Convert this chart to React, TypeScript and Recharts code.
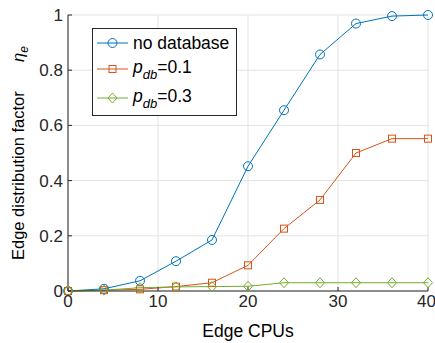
import { LineChart, Line, XAxis, YAxis, CartesianGrid } from 'recharts'

const FONT = "'Liberation Sans', Arial, sans-serif"
const BLUE = '#0072BD'
const ORANGE = '#D95319'
const GREEN = '#77AC30'
const AXIS = '#262626'

const cpus = [0, 4, 8, 12, 16, 20, 24, 28, 32, 36, 40]
const noDatabase = [0, 0.008, 0.037, 0.108, 0.185, 0.452, 0.655, 0.857, 0.969, 0.996, 1.0]
const pdb01 = [0, 0.003, 0.006, 0.016, 0.03, 0.093, 0.226, 0.33, 0.5, 0.552, 0.552]
const pdb03 = [0, 0.003, 0.012, 0.015, 0.016, 0.017, 0.03, 0.03, 0.03, 0.03, 0.03]

const xTicks = [0, 10, 20, 30, 40]
const yTicks = [0, 0.2, 0.4, 0.6, 0.8, 1]

const data = cpus.map((c, i) => ({ cpu: c, a: noDatabase[i], b: pdb01[i], c: pdb03[i] }))

type DotProps = { cx?: number; cy?: number; index?: number }

const Circle = ({ cx = 0, cy = 0, index }: DotProps) => (
  <circle key={index} cx={cx} cy={cy} r={4.5} fill="none" stroke={BLUE} strokeWidth={1} />
)
const Square = ({ cx = 0, cy = 0, index }: DotProps) => (
  <rect key={index} x={cx - 3.5} y={cy - 3.5} width={7} height={7} fill="none" stroke={ORANGE} strokeWidth={1} />
)
const Diamond = ({ cx = 0, cy = 0, index }: DotProps) => (
  <path key={index} d={`M${cx},${cy - 5}L${cx + 4.5},${cy}L${cx},${cy + 5}L${cx - 4.5},${cy}Z`}
    fill="none" stroke={GREEN} strokeWidth={1} />
)

// legend drawn as an overlay so it does not take space from the plot
const LegendBox = () => (
  <svg width={145} height={88} style={{ display: 'block' }}>
    <rect x={0.5} y={0.5} width={144} height={87} fill="#fff" stroke={AXIS} strokeWidth={1} />
    <line x1={5} x2={36} y1={15} y2={15} stroke={BLUE} />
    <Circle cx={20.5} cy={15} />
    <text x={41} y={21} fontSize={17.5} fontFamily={FONT} fill="#000">no database</text>
    <line x1={5} x2={36} y1={41} y2={41} stroke={ORANGE} />
    <Square cx={20.5} cy={41} />
    <text x={41} y={45} fontSize={17.5} fontFamily={FONT} fill="#000">
      <tspan fontStyle="italic">p</tspan>
      <tspan fontStyle="italic" fontSize={13} dy={6}>db</tspan>
      <tspan dy={-6}>=0.1</tspan>
    </text>
    <line x1={5} x2={36} y1={70} y2={70} stroke={GREEN} />
    <Diamond cx={20.5} cy={70} />
    <text x={41} y={74} fontSize={17.5} fontFamily={FONT} fill="#000">
      <tspan fontStyle="italic">p</tspan>
      <tspan fontStyle="italic" fontSize={13} dy={6}>db</tspan>
      <tspan dy={-6}>=0.3</tspan>
    </text>
  </svg>
)

const YLabel = () => (
  <text transform="translate(24,260) rotate(-90)" textAnchor="start" fontSize={16.5} fontFamily={FONT} fill="#000">
    <tspan x={0}>Edge distribution factor</tspan>
    <tspan x={198} fontStyle="italic">η</tspan>
    <tspan fontStyle="italic" fontSize={12} dy={4}>e</tspan>
  </text>
)

export default function App() {
  const tick = { fill: AXIS, fontSize: 17, fontFamily: FONT }
  return (
    <div style={{ position: 'absolute', left: 0, top: 0, width: 435, height: 343, background: '#fff' }}>
      <LineChart width={435} height={343} data={data} margin={{ top: 15, right: 7, bottom: 0, left: 0 }}>
        <CartesianGrid stroke="#e3e3e3" strokeWidth={1} />
        <XAxis dataKey="cpu" type="number" domain={[0, 40]} ticks={xTicks} tick={tick}
          stroke={AXIS} tickSize={-4} tickMargin={8} height={52}
          label={{ value: 'Edge CPUs', position: 'insideBottom', offset: 6, fill: '#000', fontSize: 17.5, fontFamily: FONT }} />
        <XAxis xAxisId="top" orientation="top" type="number" domain={[0, 40]} ticks={xTicks}
          tick={false} stroke={AXIS} tickSize={-4} height={0} />
        <YAxis type="number" domain={[0, 1]} ticks={yTicks} tick={tick} stroke={AXIS}
          tickSize={-4} tickMargin={9} width={68} tickFormatter={v => String(v)}
          label={<YLabel />} />
        <YAxis yAxisId="right" orientation="right" type="number" domain={[0, 1]} ticks={yTicks}
          tick={false} stroke={AXIS} tickSize={-4} width={0} />
        <Line dataKey="a" stroke={BLUE} strokeWidth={1} dot={<Circle />} isAnimationActive={false} />
        <Line dataKey="b" stroke={ORANGE} strokeWidth={1} dot={<Square />} isAnimationActive={false} />
        <Line dataKey="c" stroke={GREEN} strokeWidth={1} dot={<Diamond />} isAnimationActive={false} />
      </LineChart>
      <div style={{ position: 'absolute', left: 92, top: 28 }}>
        <LegendBox />
      </div>
    </div>
  )
}
